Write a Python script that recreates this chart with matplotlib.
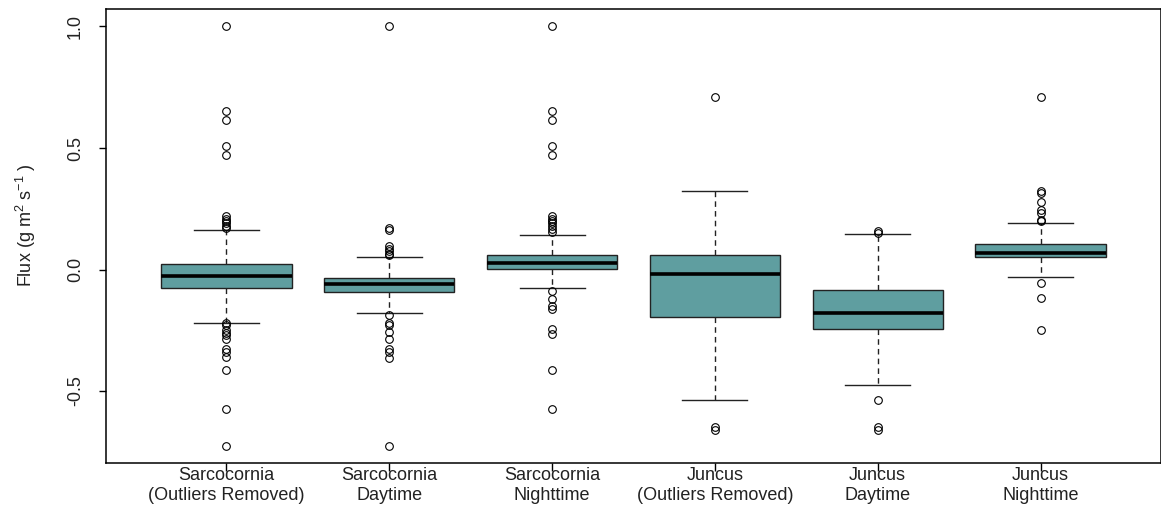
import matplotlib
matplotlib.use("Agg")
import matplotlib.pyplot as plt

plt.rcParams['font.family'] = ['Liberation Sans', 'DejaVu Sans']
plt.rcParams['mathtext.fontset'] = 'custom'
plt.rcParams['mathtext.rm'] = 'Liberation Sans'

labels = ["Sarcocornia\n(Outliers Removed)", "Sarcocornia\nDaytime", "Sarcocornia\nNighttime",
          "Juncus\n(Outliers Removed)", "Juncus\nDaytime", "Juncus\nNighttime"]

whis_hi = [0.161, 0.052, 0.141, 0.324, 0.145, 0.190]
q3      = [0.022, -0.033, 0.061, 0.061, -0.086, 0.105]
med     = [-0.027, -0.061, 0.027, -0.018, -0.180, 0.068]
q1      = [-0.077, -0.091, 0.003, -0.195, -0.245, 0.052]
whis_lo = [-0.220, -0.180, -0.077, -0.536, -0.477, -0.032]

fliers = [
    [1.0, 0.652, 0.615, 0.509, 0.471, 0.221, 0.21, 0.20, 0.19, 0.18, 0.17,
     -0.22, -0.23, -0.25, -0.26, -0.27, -0.285, -0.328, -0.34, -0.36, -0.413, -0.575, -0.724],
    [1.0, 0.17, 0.163, 0.095, 0.085, 0.075, 0.065, 0.06,
     -0.186, -0.22, -0.23, -0.258, -0.284, -0.328, -0.341, -0.362, -0.724],
    [1.0, 0.652, 0.615, 0.509, 0.471, 0.221, 0.21, 0.20, 0.19, 0.18, 0.165, 0.155,
     -0.089, -0.123, -0.15, -0.164, -0.246, -0.266, -0.413, -0.575],
    [0.708, -0.649, -0.659],
    [0.157, 0.150, -0.536, -0.649, -0.659],
    [0.708, 0.324, 0.314, 0.279, 0.243, 0.232, 0.205, 0.198, -0.056, -0.116, -0.25],
]

stats = []
for i in range(len(labels)):
    stats.append(dict(med=med[i], q1=q1[i], q3=q3[i], whislo=whis_lo[i],
                      whishi=whis_hi[i], fliers=fliers[i]))

fig = plt.figure(figsize=(11.61, 5.12), dpi=100)
ax = fig.add_axes([106 / 1161, 49 / 512, 1055 / 1161, 454 / 512])

ax.bxp(stats, positions=range(1, 7), widths=0.8, patch_artist=True,
       boxprops=dict(facecolor='#5F9EA0', edgecolor='#222222', linewidth=1.0),
       medianprops=dict(color='black', linewidth=2.6, solid_capstyle='butt'),
       whiskerprops=dict(color='#222222', linewidth=1.0, linestyle=(0, (4, 3))),
       capprops=dict(color='#222222', linewidth=1.0),
       capwidths=0.4,
       flierprops=dict(marker='o', markerfacecolor='none', markeredgecolor='black',
                       markersize=5.5, markeredgewidth=0.8))

ax.set_xlim(0.26, 6.74)
ax.set_ylim(-0.796, 1.072)
ax.set_xticks(range(1, 7))
ax.set_xticklabels(labels, fontsize=13, color='#222222', linespacing=1.2)
ax.set_yticks([-0.5, 0.0, 0.5, 1.0])
ax.set_yticklabels(["-0.5", "0.0", "0.5", "1.0"], rotation=90, va='center',
                   fontsize=13, color='#222222')
ax.tick_params(axis='x', length=6, width=1, pad=-3)
ax.tick_params(axis='y', length=5, width=1, pad=11)
for s in ax.spines.values():
    s.set_linewidth(1.1)

ax.set_ylabel(r"Flux (g m$^{\mathregular{2}}$ s$^{\mathregular{-1}}$ )", fontsize=13,
              color='#222222')
ax.yaxis.set_label_coords(-68 / 1055, 0.524)

fig.savefig("out.png", dpi=100)
